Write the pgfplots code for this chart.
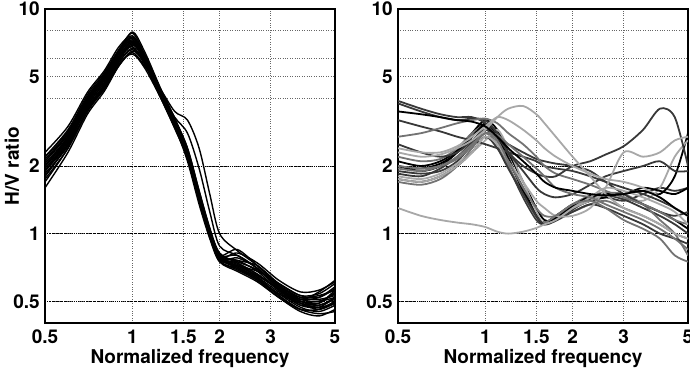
\documentclass[border=0pt]{standalone}
\usepackage{pgfplots}
\pgfplotsset{compat=1.18}
\usepackage{fontspec}
\setmainfont{TeX Gyre Heros}
\definecolor{dk}{gray}{0.22}
\definecolor{md}{gray}{0.45}
\definecolor{lt}{gray}{0.66}
\begin{document}
\begin{tikzpicture}
\useasboundingbox (0,0) rectangle (690pt,-372pt);
\begin{axis}[at={(45pt,-323pt)}, anchor=south west,
    scale only axis, width=290pt, height=314pt,
    xmode=log, ymode=log, xmin=0.5, xmax=5, ymin=0.4, ymax=10,
    xtick={0.5,1,1.5,2,3,5}, xticklabels={0.5,1,1.5,2,3,5},
    ytick={0.5,1,2,4,5,6,8,10}, yticklabels={0.5,1,2,,5,,,10},
    xmajorgrids=true, ymajorgrids=true,
    major grid style={dotted, line width=0.7pt, black!60},
    major tick length=0pt, minor tick length=0pt,
    axis line style={line width=1.3pt},
    tick label style={font=\bfseries\fontsize{19}{21}\selectfont},
    xticklabel style={anchor=north, inner sep=0pt, yshift=-7pt},
    yticklabel style={anchor=east, inner sep=0pt, xshift=-5pt},
    label style={font=\bfseries\fontsize{19}{21}\selectfont},
    xlabel={Normalized frequency},
    xlabel style={at={(axis description cs:0.5,-0.1274)}, anchor=base, inner sep=0pt},
    ylabel={H/V ratio},
    ylabel style={at={(axis description cs:-0.1138,0.5)}, anchor=center}]
\addplot[black, line width=0.8pt, dash pattern=on 1.5pt off 1pt on 0.6pt off 1pt, forget plot] coordinates {(0.5,0.5) (5,0.5)};
\addplot[black, line width=0.8pt, dash pattern=on 1.5pt off 1pt on 0.6pt off 1pt, forget plot] coordinates {(0.5,1) (5,1)};
\addplot[black, line width=0.8pt, dash pattern=on 1.5pt off 1pt on 0.6pt off 1pt, forget plot] coordinates {(0.5,2) (5,2)};
\addplot[black, line width=1.4pt, smooth] coordinates {(0.5,2.0) (0.6,2.7) (0.7,3.95) (0.8,5.0) (0.9,6.6) (1.0,7.8) (1.1,6.3) (1.25,4.2) (1.4,3.05) (1.55,2.2) (1.7,1.4) (1.85,0.98) (2.0,0.78) (2.3,0.74) (2.7,0.66) (3.2,0.56) (3.8,0.48) (4.4,0.47) (5.0,0.52)};
\addplot[black, line width=1.4pt, smooth] coordinates {(0.5,1.8) (0.6,2.5) (0.7,3.65) (0.8,4.5) (0.9,5.8) (1.0,6.6) (1.1,5.7) (1.25,4.05) (1.4,3.0) (1.55,2.1) (1.7,1.35) (1.85,0.95) (2.0,0.75) (2.3,0.70) (2.7,0.63) (3.2,0.53) (3.8,0.46) (4.4,0.46) (5.0,0.50)};
\addplot[black, line width=1.4pt, smooth] coordinates {(0.5,2.2) (0.6,2.9) (0.7,4.15) (0.8,5.2) (0.9,6.6) (1.0,7.5) (1.1,6.2) (1.25,4.3) (1.4,3.25) (1.55,2.4) (1.7,1.55) (1.85,1.05) (2.0,0.80) (2.3,0.80) (2.7,0.70) (3.2,0.58) (3.8,0.52) (4.4,0.53) (5.0,0.56)};
\addplot[black, line width=1.4pt, smooth] coordinates {(0.5,1.6) (0.6,2.3) (0.7,3.4) (0.8,4.3) (0.9,5.6) (1.0,6.5) (1.1,5.8) (1.25,4.2) (1.4,3.15) (1.55,2.3) (1.7,1.5) (1.85,1.02) (2.0,0.79) (2.3,0.71) (2.7,0.63) (3.2,0.54) (3.8,0.47) (4.4,0.45) (5.0,0.48)};
\addplot[black, line width=1.4pt, smooth] coordinates {(0.5,2.1) (0.6,2.8) (0.7,4.05) (0.8,5.1) (0.9,6.5) (1.0,7.4) (1.1,6.1) (1.25,4.2) (1.4,3.1) (1.55,2.25) (1.7,1.45) (1.85,1.0) (2.0,0.77) (2.3,0.72) (2.7,0.65) (3.2,0.57) (3.8,0.51) (4.4,0.52) (5.0,0.58)};
\addplot[black, line width=1.4pt, smooth] coordinates {(0.5,1.9) (0.6,2.6) (0.7,3.75) (0.8,4.7) (0.9,6.0) (1.0,7.0) (1.1,5.9) (1.25,4.2) (1.4,3.15) (1.55,2.3) (1.7,1.5) (1.85,1.03) (2.0,0.80) (2.3,0.76) (2.7,0.68) (3.2,0.56) (3.8,0.50) (4.4,0.50) (5.0,0.54)};
\addplot[black, line width=1.4pt, smooth] coordinates {(0.5,2.0) (0.6,2.6) (0.7,3.6) (0.8,4.4) (0.9,5.6) (1.0,6.4) (1.1,5.6) (1.25,4.4) (1.4,3.5) (1.55,3.2) (1.7,2.4) (1.85,1.5) (2.0,1.0) (2.3,0.84) (2.7,0.72) (3.2,0.58) (3.8,0.50) (4.4,0.48) (5.0,0.52)};
\addplot[black, line width=1.4pt, smooth] coordinates {(0.5,1.9) (0.6,2.5) (0.7,3.5) (0.8,4.5) (0.9,5.8) (1.0,6.7) (1.1,5.8) (1.25,4.3) (1.4,3.3) (1.55,2.8) (1.7,1.95) (1.85,1.25) (2.0,0.88) (2.3,0.80) (2.7,0.70) (3.2,0.57) (3.8,0.49) (4.4,0.46) (5.0,0.49)};
\addplot[black, line width=1.4pt, smooth] coordinates {(0.5,2.3) (0.6,3.0) (0.7,4.25) (0.8,5.3) (0.9,6.8) (1.0,7.6) (1.1,6.3) (1.25,4.4) (1.4,3.25) (1.55,2.35) (1.7,1.5) (1.85,1.02) (2.0,0.79) (2.3,0.76) (2.7,0.72) (3.2,0.60) (3.8,0.53) (4.4,0.54) (5.0,0.60)};
\addplot[black, line width=1.4pt, smooth] coordinates {(0.5,1.7) (0.6,2.4) (0.7,3.5) (0.8,4.5) (0.9,5.9) (1.0,6.9) (1.1,6.0) (1.25,4.3) (1.4,3.15) (1.55,2.3) (1.7,1.48) (1.85,1.0) (2.0,0.76) (2.3,0.69) (2.7,0.62) (3.2,0.52) (3.8,0.45) (4.4,0.43) (5.0,0.46)};
\addplot[black, line width=1.4pt, smooth] coordinates {(0.5,2.0) (0.6,2.65) (0.7,3.85) (0.8,4.9) (0.9,6.3) (1.0,7.3) (1.1,5.9) (1.25,4.1) (1.4,3.0) (1.55,2.2) (1.7,1.42) (1.85,0.98) (2.0,0.76) (2.3,0.78) (2.7,0.70) (3.2,0.57) (3.8,0.50) (4.4,0.49) (5.0,0.55)};
\addplot[black, line width=1.4pt, smooth] coordinates {(0.5,1.9) (0.6,2.55) (0.7,3.65) (0.8,4.6) (0.9,6.1) (1.0,7.1) (1.1,6.1) (1.25,4.3) (1.4,3.2) (1.55,2.35) (1.7,1.52) (1.85,1.04) (2.0,0.81) (2.3,0.75) (2.7,0.69) (3.2,0.59) (3.8,0.52) (4.4,0.51) (5.0,0.53)};
\addplot[black, line width=1.4pt, smooth] coordinates {(0.5,2.1) (0.6,2.75) (0.7,3.95) (0.8,4.9) (0.9,6.4) (1.0,7.9) (1.1,6.5) (1.25,4.45) (1.4,3.25) (1.55,2.3) (1.7,1.45) (1.85,0.99) (2.0,0.77) (2.3,0.71) (2.7,0.64) (3.2,0.55) (3.8,0.48) (4.4,0.48) (5.0,0.51)};
\addplot[black, line width=1.4pt, smooth] coordinates {(0.5,1.85) (0.6,2.45) (0.7,3.5) (0.8,4.4) (0.9,5.7) (1.0,6.3) (1.1,5.5) (1.25,4.05) (1.4,3.05) (1.55,2.25) (1.7,1.47) (1.85,1.01) (2.0,0.79) (2.3,0.73) (2.7,0.66) (3.2,0.56) (3.8,0.49) (4.4,0.49) (5.0,0.56)};
\addplot[black, line width=1.4pt, smooth] coordinates {(0.5,2.0) (0.6,2.7) (0.7,4.0) (0.8,5.0) (0.9,6.5) (1.0,7.5) (1.1,6.0) (1.25,4.1) (1.4,2.95) (1.55,2.15) (1.7,1.4) (1.85,0.97) (2.0,0.75) (2.3,0.68) (2.7,0.61) (3.2,0.52) (3.8,0.46) (4.4,0.46) (5.0,0.50)};
\addplot[black, line width=1.4pt, smooth] coordinates {(0.5,2.2) (0.6,2.85) (0.7,4.05) (0.8,5.1) (0.9,6.4) (1.0,7.2) (1.1,5.85) (1.25,4.05) (1.4,2.95) (1.55,2.2) (1.7,1.43) (1.85,0.99) (2.0,0.78) (2.3,0.82) (2.7,0.74) (3.2,0.62) (3.8,0.55) (4.4,0.56) (5.0,0.61)};
\addplot[black, line width=1.4pt, smooth] coordinates {(0.5,1.75) (0.6,2.4) (0.7,3.55) (0.8,4.6) (0.9,6.0) (1.0,7.0) (1.1,6.2) (1.25,4.4) (1.4,3.25) (1.55,2.4) (1.7,1.55) (1.85,1.06) (2.0,0.82) (2.3,0.74) (2.7,0.64) (3.2,0.53) (3.8,0.46) (4.4,0.44) (5.0,0.45)};
\addplot[black, line width=1.4pt, smooth] coordinates {(0.5,1.95) (0.6,2.6) (0.7,3.8) (0.8,4.8) (0.9,6.2) (1.0,7.1) (1.1,5.85) (1.25,4.1) (1.4,3.05) (1.55,2.2) (1.7,1.44) (1.85,0.99) (2.0,0.77) (2.3,0.72) (2.7,0.68) (3.2,0.60) (3.8,0.53) (4.4,0.52) (5.0,0.57)};
\addplot[black, line width=1.4pt, smooth] coordinates {(0.5,2.05) (0.6,2.7) (0.7,3.9) (0.8,4.95) (0.9,6.45) (1.0,7.45) (1.1,6.25) (1.25,4.35) (1.4,3.15) (1.55,2.25) (1.7,1.46) (1.85,1.0) (2.0,0.78) (2.3,0.70) (2.7,0.62) (3.2,0.54) (3.8,0.49) (4.4,0.47) (5.0,0.49)};
\addplot[black, line width=1.4pt, smooth] coordinates {(0.5,2.15) (0.6,2.8) (0.7,3.95) (0.8,4.85) (0.9,6.1) (1.0,6.8) (1.1,5.75) (1.25,4.1) (1.4,3.05) (1.55,2.25) (1.7,1.48) (1.85,1.02) (2.0,0.80) (2.3,0.85) (2.7,0.72) (3.2,0.59) (3.8,0.51) (4.4,0.50) (5.0,0.52)};
\addplot[black, line width=1.4pt, smooth] coordinates {(0.5,1.8) (0.6,2.5) (0.7,3.7) (0.8,4.7) (0.9,6.1) (1.0,7.2) (1.1,6.2) (1.25,4.3) (1.4,3.15) (1.55,2.3) (1.7,1.5) (1.85,1.03) (2.0,0.79) (2.3,0.72) (2.7,0.65) (3.2,0.57) (3.8,0.51) (4.4,0.55) (5.0,0.62)};
\end{axis}
\begin{axis}[at={(398pt,-323pt)}, anchor=south west,
    scale only axis, width=290pt, height=314pt,
    xmode=log, ymode=log, xmin=0.5, xmax=5, ymin=0.4, ymax=10,
    xtick={0.5,1,1.5,2,3,5}, xticklabels={0.5,1,1.5,2,3,5},
    ytick={0.5,1,2,4,5,6,8,10}, yticklabels={0.5,1,2,,5,,,10},
    xmajorgrids=true, ymajorgrids=true,
    major grid style={dotted, line width=0.7pt, black!60},
    major tick length=0pt, minor tick length=0pt,
    axis line style={line width=1.3pt},
    tick label style={font=\bfseries\fontsize{19}{21}\selectfont},
    xticklabel style={anchor=north, inner sep=0pt, yshift=-7pt},
    yticklabel style={anchor=east, inner sep=0pt, xshift=-5pt},
    label style={font=\bfseries\fontsize{19}{21}\selectfont},
    xlabel={Normalized frequency},
    xlabel style={at={(axis description cs:0.5,-0.1274)}, anchor=base, inner sep=0pt}]
\addplot[black, line width=0.8pt, dash pattern=on 1.5pt off 1pt on 0.6pt off 1pt, forget plot] coordinates {(0.5,0.5) (5,0.5)};
\addplot[black, line width=0.8pt, dash pattern=on 1.5pt off 1pt on 0.6pt off 1pt, forget plot] coordinates {(0.5,1) (5,1)};
\addplot[black, line width=0.8pt, dash pattern=on 1.5pt off 1pt on 0.6pt off 1pt, forget plot] coordinates {(0.5,2) (5,2)};
\addplot[black, line width=1.8pt, smooth] coordinates {(0.5,2.0) (0.6,1.9) (0.7,2.0) (0.8,2.3) (0.9,2.7) (1.0,3.1) (1.1,2.7) (1.2,2.1) (1.35,1.6) (1.5,1.2) (1.6,1.12) (1.75,1.2) (2.0,1.35) (2.3,1.45) (2.6,1.5) (3.0,1.45) (3.5,1.35) (4.0,1.25) (4.5,1.15) (5.0,1.05)};
\addplot[dk, line width=1.8pt, smooth] coordinates {(0.5,1.85) (0.6,1.8) (0.7,1.95) (0.8,2.2) (0.9,2.55) (1.0,2.9) (1.1,2.6) (1.2,2.0) (1.35,1.45) (1.5,1.15) (1.6,1.1) (1.75,1.2) (2.0,1.3) (2.3,1.4) (2.6,1.45) (3.0,1.4) (3.5,1.5) (4.0,1.6) (4.5,1.55) (5.0,1.6)};
\addplot[md, line width=1.8pt, smooth] coordinates {(0.5,1.7) (0.6,1.65) (0.7,1.75) (0.8,2.0) (0.9,2.4) (1.0,2.8) (1.1,2.5) (1.2,2.0) (1.35,1.5) (1.5,1.2) (1.6,1.12) (1.75,1.18) (2.0,1.25) (2.3,1.35) (2.6,1.4) (3.0,1.3) (3.5,1.2) (4.0,1.1) (4.5,1.0) (5.0,0.95)};
\addplot[black, line width=1.8pt, smooth] coordinates {(0.5,2.1) (0.6,2.0) (0.7,2.1) (0.8,2.35) (0.9,2.8) (1.0,3.2) (1.1,2.9) (1.2,2.3) (1.35,1.7) (1.5,1.3) (1.6,1.15) (1.75,1.15) (2.0,1.3) (2.3,1.4) (2.6,1.45) (3.0,1.5) (3.5,1.55) (4.0,1.5) (4.5,1.8) (5.0,2.8)};
\addplot[dk, line width=1.8pt, smooth] coordinates {(0.5,1.9) (0.6,1.85) (0.7,1.9) (0.8,2.1) (0.9,2.5) (1.0,3.0) (1.1,2.8) (1.2,2.2) (1.35,1.55) (1.5,1.2) (1.6,1.1) (1.75,1.15) (2.0,1.28) (2.3,1.42) (2.6,1.48) (3.0,1.42) (3.5,1.3) (4.0,1.2) (4.5,1.1) (5.0,1.0)};
\addplot[md, line width=1.8pt, smooth] coordinates {(0.5,2.2) (0.6,2.1) (0.7,2.15) (0.8,2.4) (0.9,2.8) (1.0,3.0) (1.1,2.6) (1.2,2.0) (1.35,1.5) (1.5,1.18) (1.6,1.12) (1.75,1.2) (2.0,1.35) (2.3,1.48) (2.6,1.52) (3.0,1.5) (3.5,1.35) (4.0,1.15) (4.5,1.0) (5.0,0.8)};
\addplot[lt, line width=1.8pt, smooth] coordinates {(0.5,1.8) (0.6,1.75) (0.7,1.85) (0.8,2.05) (0.9,2.3) (1.0,2.6) (1.1,2.9) (1.2,2.4) (1.35,1.7) (1.5,1.25) (1.6,1.1) (1.75,1.15) (2.0,1.3) (2.3,1.4) (2.6,1.5) (3.0,1.45) (3.5,1.4) (4.0,1.6) (4.5,2.2) (5.0,2.6)};
\addplot[black, line width=1.8pt, smooth] coordinates {(0.5,2.0) (0.6,1.95) (0.7,2.05) (0.8,2.3) (0.9,2.7) (1.0,3.05) (1.1,2.7) (1.2,2.15) (1.35,1.55) (1.5,1.2) (1.6,1.1) (1.75,1.17) (2.0,1.32) (2.3,1.47) (2.6,1.5) (3.0,1.5) (3.5,1.6) (4.0,1.55) (4.5,1.5) (5.0,1.6)};
\addplot[dk, line width=1.8pt, smooth] coordinates {(0.5,1.75) (0.6,1.7) (0.7,1.8) (0.8,2.0) (0.9,2.3) (1.0,2.7) (1.1,2.4) (1.2,1.95) (1.35,1.5) (1.5,1.2) (1.6,1.1) (1.75,1.14) (2.0,1.25) (2.3,1.35) (2.6,1.3) (3.0,1.2) (3.5,1.1) (4.0,1.0) (4.5,0.95) (5.0,0.9)};
\addplot[dk, line width=1.8pt, smooth] coordinates {(0.5,3.9) (0.6,3.6) (0.7,3.4) (0.8,3.3) (0.9,3.3) (1.0,3.1) (1.1,2.7) (1.2,2.5) (1.35,2.3) (1.5,2.15) (1.6,2.1) (1.75,2.05) (2.0,2.0) (2.3,1.9) (2.6,1.7) (3.0,1.5) (3.5,1.35) (4.0,1.25) (4.5,1.2) (5.0,1.25)};
\addplot[dk, line width=1.8pt, smooth] coordinates {(0.5,3.8) (0.6,3.5) (0.7,3.3) (0.8,3.2) (0.9,3.25) (1.0,3.2) (1.1,2.8) (1.2,2.3) (1.35,1.9) (1.5,1.6) (1.6,1.5) (1.75,1.45) (2.0,1.5) (2.3,1.65) (2.6,1.8) (3.0,1.9) (3.5,2.0) (4.0,2.1) (4.5,1.9) (5.0,1.9)};
\addplot[dk, line width=1.8pt, smooth] coordinates {(0.5,3.2) (0.6,3.0) (0.7,2.85) (0.8,2.7) (0.9,2.6) (1.0,2.5) (1.1,2.4) (1.2,2.3) (1.35,2.2) (1.5,2.1) (1.6,2.0) (1.75,1.95) (2.0,1.9) (2.3,1.8) (2.6,1.7) (3.0,1.6) (3.5,1.5) (4.0,1.4) (4.5,1.3) (5.0,1.2)};
\addplot[md, line width=1.8pt, smooth] coordinates {(0.5,2.7) (0.6,2.8) (0.7,2.95) (0.8,3.1) (0.9,3.2) (1.0,3.25) (1.1,3.1) (1.2,2.8) (1.35,2.5) (1.5,2.2) (1.6,2.0) (1.75,1.85) (2.0,1.75) (2.3,1.65) (2.6,1.55) (3.0,1.45) (3.5,1.35) (4.0,1.25) (4.5,1.15) (5.0,1.1)};
\addplot[dk, line width=1.8pt, smooth] coordinates {(0.5,2.5) (0.6,2.3) (0.7,2.2) (0.8,2.3) (0.9,2.6) (1.0,2.9) (1.1,2.7) (1.2,2.3) (1.35,2.0) (1.5,1.85) (1.6,1.8) (1.75,1.8) (2.0,2.0) (2.3,2.1) (2.6,2.25) (3.0,2.45) (3.5,2.9) (4.0,3.6) (4.5,3.3) (5.0,2.0)};
\addplot[lt, line width=1.8pt, smooth] coordinates {(0.5,2.3) (0.6,2.2) (0.7,2.25) (0.8,2.4) (0.9,2.6) (1.0,2.9) (1.1,3.3) (1.2,3.6) (1.35,3.7) (1.5,3.4) (1.6,3.1) (1.75,2.7) (2.0,2.2) (2.3,1.8) (2.6,1.5) (3.0,1.3) (3.5,1.2) (4.0,1.1) (4.5,1.0) (5.0,0.95)};
\addplot[lt, line width=1.8pt, smooth] coordinates {(0.5,2.4) (0.6,2.3) (0.7,2.3) (0.8,2.45) (0.9,2.7) (1.0,3.0) (1.1,3.3) (1.2,3.2) (1.35,2.9) (1.5,2.6) (1.6,2.4) (1.75,2.2) (2.0,2.0) (2.3,1.85) (2.6,1.75) (3.0,1.7) (3.5,1.6) (4.0,1.45) (4.5,1.3) (5.0,1.2)};
\addplot[lt, line width=1.8pt, smooth] coordinates {(0.5,1.3) (0.6,1.2) (0.7,1.15) (0.8,1.12) (0.9,1.1) (1.0,1.07) (1.1,1.02) (1.2,1.0) (1.35,1.02) (1.5,1.06) (1.6,1.1) (1.75,1.15) (2.0,1.3) (2.3,1.45) (2.6,1.6) (3.0,1.55) (3.5,1.45) (4.0,1.35) (4.5,1.25) (5.0,1.1)};
\addplot[lt, line width=1.8pt, smooth] coordinates {(0.5,1.75) (0.6,1.7) (0.7,1.8) (0.8,2.0) (0.9,2.3) (1.0,2.7) (1.1,2.5) (1.2,2.1) (1.35,1.7) (1.5,1.4) (1.6,1.3) (1.75,1.2) (2.0,1.2) (2.3,1.3) (2.6,1.6) (3.0,2.3) (3.5,2.2) (4.0,2.3) (4.5,2.6) (5.0,2.7)};
\addplot[md, line width=1.8pt, smooth] coordinates {(0.5,2.0) (0.6,1.95) (0.7,2.0) (0.8,2.15) (0.9,2.45) (1.0,2.8) (1.1,2.6) (1.2,2.1) (1.35,1.6) (1.5,1.3) (1.6,1.2) (1.75,1.2) (2.0,1.35) (2.3,1.4) (2.6,1.3) (3.0,1.15) (3.5,1.05) (4.0,0.95) (4.5,0.8) (5.0,0.75)};
\addplot[md, line width=1.8pt, smooth] coordinates {(0.5,1.95) (0.6,1.9) (0.7,2.0) (0.8,2.2) (0.9,2.5) (1.0,2.8) (1.1,2.75) (1.2,2.5) (1.35,2.2) (1.5,1.95) (1.6,1.8) (1.75,1.6) (2.0,1.5) (2.3,1.45) (2.6,1.35) (3.0,1.25) (3.5,1.15) (4.0,1.05) (4.5,0.95) (5.0,0.85)};
\addplot[black, line width=1.8pt, smooth] coordinates {(0.5,3.5) (0.6,3.4) (0.7,3.3) (0.8,3.2) (0.9,3.15) (1.0,3.0) (1.1,2.7) (1.2,2.4) (1.35,2.1) (1.5,1.85) (1.6,1.7) (1.75,1.6) (2.0,1.55) (2.3,1.5) (2.6,1.48) (3.0,1.5) (3.5,1.55) (4.0,1.45) (4.5,1.3) (5.0,1.2)};
\end{axis}
\end{tikzpicture}
\end{document}
